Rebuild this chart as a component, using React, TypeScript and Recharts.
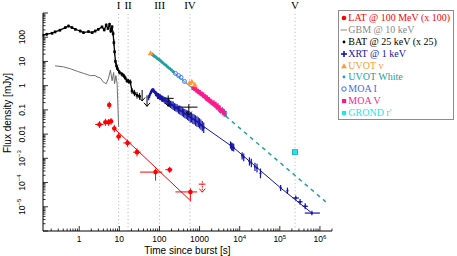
import React from "react";
import {
  ComposedChart,
  ErrorBar,
  Line,
  ReferenceLine,
  Scatter,
  XAxis,
  YAxis,
} from "recharts";

const SANS = "'Liberation Sans', Arial, sans-serif";
const SERIF = "'Liberation Serif', 'Times New Roman', serif";

const X_DOMAIN: [number, number] = [0.125, 2e6];
const Y_DOMAIN: [number, number] = [1e-6, 1e3];

const xTickValues = [1, 10, 100, 1000, 1e4, 1e5, 1e6];
const xTickLabels = [["1"], ["10"], ["100"], ["1000"], ["10", "4"], ["10", "5"], ["10", "6"]];
const yTickValues = [1e-5, 1e-4, 1e-3, 0.01, 0.1, 1, 10, 100];
const yTickLabels = [["10", "−5"], ["10", "−4"], ["10", "−3"], ["0.01"], ["0.1"], ["1"], ["10"], ["100"]];

const phaseTimes = [9.6, 16.5, 101, 575, 2.4e5];
const phaseNames = ["I", "II", "III", "IV", "V"];

// [t, v]
const gbm: [number, number][] = [
  [0.25, 6.6], [0.4, 6.0], [0.6, 5.0], [0.9, 3.9], [1.3, 3.2], [1.9, 2.6], [2.5, 2.6],
  [2.8, 2.3], [3.35, 2.1], [4.0, 1.4], [4.7, 1.2], [5.3, 1.9], [6.0, 4.4], [6.6, 1.6],
  [7.2, 3.5], [7.6, 1.2], [8.2, 2.6], [8.8, 1.2], [9.1, 0.25], [9.6, 0.02],
];

// [t, v, vLow, vHigh]
const bat: [number, number, number, number][] = [
  [0.126, 121, 105, 138], [0.155, 133, 115, 150], [0.21, 146, 128, 165], [0.25, 166, 145, 188],
  [0.33, 195, 172, 220], [0.45, 250, 220, 282], [0.54, 290, 255, 328], [0.66, 250, 220, 282],
  [0.8, 213, 188, 240], [1.06, 180, 158, 204], [1.28, 155, 136, 176], [1.7, 170, 150, 192],
  [2.1, 155, 136, 176], [2.5, 180, 158, 204], [3.0, 213, 188, 240], [3.7, 266, 235, 300],
  [4.2, 200, 176, 226], [4.7, 320, 282, 362], [5.2, 230, 202, 260], [5.7, 340, 300, 385],
  [6.1, 180, 150, 215], [6.6, 270, 230, 315], [7.0, 140, 110, 175], [7.3, 60, 45, 80],
  [7.6, 25, 18, 34], [8.0, 10, 7.5, 13], [8.5, 6.5, 5, 8.5], [9.0, 5.0, 4, 6.3],
  [10, 3.6, 2.9, 4.5], [11.5, 3.0, 2.4, 3.7], [12.8, 2.6, 2.1, 3.2], [14, 2.1, 1.7, 2.6],
  [15.5, 1.6, 1.3, 2.0], [17, 1.5, 1.2, 1.9], [18.8, 1.4, 1.1, 1.8], [20.7, 0.6, 0.45, 0.8],
  [23.7, 0.5, 0.37, 0.67], [27.6, 0.4, 0.29, 0.55], [32, 0.36, 0.26, 0.5],
];

// upper limits [t, v, tLow, tHigh]
const batLimits: [number, number, number, number][] = [
  [37, 0.5, 37, 37], [49, 0.3, 49, 49], [165, 0.3, 87, 226], [540, 0.13, 226, 890],
];

// [t, v, tLow, tHigh, vLow, vHigh]
const lat: [number, number, number, number, number, number][] = [
  [3.2, 0.025, 2.5, 4.0, 0.018, 0.034],
  [4.5, 0.031, 4.0, 5.0, 0.022, 0.043],
  [5.4, 0.031, 5.0, 5.8, 0.022, 0.042],
  [5.6, 0.16, 5.3, 5.9, 0.11, 0.22],
  [6.2, 0.034, 5.8, 6.6, 0.024, 0.046],
  [7.5, 0.017, 6.8, 8.3, 0.012, 0.024],
  [9.6, 0.008, 8.5, 11, 0.0055, 0.011],
  [16, 0.0043, 12.5, 20, 0.003, 0.006],
  [27.6, 0.0018, 22, 34, 0.0012, 0.0026],
  [80, 2.7e-4, 33, 117, 1.2e-4, 3.8e-4],
  [180, 3.4e-4, 140, 210, 2.5e-4, 4.5e-4],
  [590, 4.1e-5, 250, 870, 1.7e-5, 5.8e-5],
];
const latLimits: [number, number, number, number][] = [[1170, 8.6e-5, 950, 1400]];
const latFit: [number, number][] = [[7.5, 0.017], [570, 1.9e-5]];

// [t, v, vLow, vHigh, tLow?, tHigh?]
const xrt: number[][] = [
  [54, 0.33, 0.25, 0.42], [57, 0.4, 0.31, 0.5], [60, 0.5, 0.4, 0.62], [63, 0.58, 0.46, 0.72],
  [66, 0.64, 0.52, 0.78], [69, 0.66, 0.54, 0.8], [72, 0.62, 0.5, 0.76], [76, 0.55, 0.44, 0.68],
  [80, 0.47, 0.37, 0.6], [84, 0.45, 0.35, 0.57], [89, 0.4, 0.31, 0.52], [94, 0.38, 0.29, 0.5],
  [100, 0.34, 0.26, 0.45], [106, 0.33, 0.25, 0.44], [113, 0.3, 0.22, 0.4], [120, 0.28, 0.21, 0.38],
  [128, 0.27, 0.2, 0.36], [136, 0.25, 0.18, 0.34], [145, 0.24, 0.17, 0.33], [155, 0.22, 0.16, 0.3],
  [166, 0.2, 0.14, 0.28], [178, 0.19, 0.13, 0.27], [190, 0.17, 0.12, 0.24], [205, 0.16, 0.11, 0.23],
  [220, 0.15, 0.1, 0.22], [238, 0.13, 0.09, 0.19], [256, 0.12, 0.085, 0.18], [276, 0.115, 0.08, 0.17],
  [298, 0.1, 0.07, 0.15], [320, 0.1, 0.065, 0.15], [345, 0.09, 0.06, 0.14], [372, 0.085, 0.055, 0.13],
  [400, 0.075, 0.05, 0.115], [430, 0.07, 0.045, 0.11], [465, 0.065, 0.042, 0.1], [500, 0.06, 0.038, 0.095],
  [540, 0.055, 0.035, 0.09], [585, 0.05, 0.03, 0.08], [630, 0.046, 0.03, 0.075], [680, 0.042, 0.026, 0.07],
  [735, 0.04, 0.025, 0.065], [795, 0.036, 0.022, 0.06], [860, 0.033, 0.02, 0.055], [930, 0.03, 0.019, 0.05],
  [1000, 0.027, 0.017, 0.045], [1080, 0.024, 0.015, 0.04], [1170, 0.021, 0.013, 0.035], [1270, 0.018, 0.011, 0.03],
  [5900, 0.0036, 0.0025, 0.005], [6300, 0.0031, 0.0021, 0.0045], [6700, 0.0029, 0.002, 0.0042],
  [7100, 0.0027, 0.0019, 0.004], [11500, 0.0013, 0.0009, 0.0018], [12600, 0.0011, 0.00075, 0.0016],
  [17500, 7.5e-4, 5e-4, 1.1e-3], [19500, 6.5e-4, 4.3e-4, 9.5e-4], [24000, 4.5e-4, 3e-4, 6.5e-4],
  [27000, 4e-4, 2.6e-4, 6e-4], [33000, 2.4e-4, 1.5e-4, 3.8e-4], [1.05e5, 6e-5, 4.5e-5, 8e-5],
  [1.55e5, 4.6e-5, 3.4e-5, 6.2e-5], [2.5e5, 2.3e-5, 1.8e-5, 2.9e-5, 2.1e5, 3e5],
  [3.2e5, 1.6e-5, 1.2e-5, 2.1e-5, 2.8e5, 3.7e5], [4.3e5, 1.05e-5, 8e-6, 1.4e-5, 3.7e5, 5e5],
  [6.3e5, 5.5e-6, 4.5e-6, 6.8e-6, 4.2e5, 1e6],
];
const xrtFit: [number, number][] = [[1000, 0.027], [7000, 0.0028], [1.05e5, 6e-5], [6.3e5, 5.5e-6]];

const uvotV: [number, number][] = [[60, 22], [560, 1.3], [640, 1.45], [760, 1.1]];
const uvotWhite: [number, number][] = [
  [66, 20], [70, 18], [75, 16.5], [82, 15], [90, 13], [98, 12], [108, 10.5], [118, 9.2],
  [130, 8], [145, 7], [160, 6], [178, 5.2], [198, 4.5], [220, 3.8], [3300, 0.085], [4400, 0.06],
];
const moaI: [number, number][] = [[250, 3.2], [300, 2.6], [345, 2.2], [420, 1.5], [1550, 0.28], [3700, 0.094], [4300, 0.075]];
// [t, v, vLow, vHigh]
const moaV: [number, number, number, number][] = [
  [700, 0.8, 0.72, 0.88], [780, 0.72, 0.65, 0.8], [870, 0.62, 0.55, 0.7], [960, 0.55, 0.48, 0.63],
  [1060, 0.48, 0.42, 0.55], [1170, 0.44, 0.38, 0.51], [1300, 0.37, 0.31, 0.44], [1450, 0.33, 0.27, 0.4],
  [1620, 0.28, 0.22, 0.35], [1800, 0.24, 0.18, 0.31], [2050, 0.2, 0.15, 0.27], [2300, 0.18, 0.13, 0.25],
  [2600, 0.15, 0.1, 0.21], [2900, 0.13, 0.09, 0.19], [3300, 0.1, 0.07, 0.15], [3700, 0.09, 0.06, 0.13],
  [4100, 0.075, 0.05, 0.11],
];
const grond: [number, number][] = [[2.4e5, 1.8e-3]];
const opticalFit: [number, number][] = [[60, 22], [4500, 0.055]];
const opticalExtrap: [number, number][] = [[4500, 0.055], [1.4e6, 1.6e-5]];

const C = {
  lat: "#ff0000",
  gbm: "#707070",
  bat: "#000000",
  xrt: "#1616a6",
  uvotV: "#ff9933",
  uvotW: "#23a0a0",
  moaI: "#3d6cf0",
  moaV: "#ff1a8c",
  grond: "#22e6ee",
  fit: "#4cb2dc",
};

const legendItems = [
  { name: "LAT @ 100 MeV (x 100)", color: C.lat, marker: "dot" },
  { name: "GBM @ 10 keV", color: "#888888", marker: "line" },
  { name: "BAT @ 25 keV (x 25)", color: C.bat, marker: "small" },
  { name: "XRT @ 1 keV", color: C.xrt, marker: "plus" },
  { name: "UVOT v", color: C.uvotV, marker: "tri" },
  { name: "UVOT White", color: C.uvotW, marker: "small" },
  { name: "MOA I", color: C.moaI, marker: "ring" },
  { name: "MOA V", color: C.moaV, marker: "square" },
  { name: "GROND r'", color: C.grond, marker: "square" },
];

const pts = (a: [number, number][]) => a.map(([t, v]) => ({ t, v }));
const gbmData = pts(gbm);
const batData = bat.map(([t, v, lo, hi]) => ({ t, v, ey: [v - lo, hi - v] }));
const batLimData = batLimits.map(([t, v, tl, th]) => ({ t, v, ex: [t - tl, th - t] }));
const latData = lat.map(([t, v, tl, th, lo, hi]) => ({ t, v, ex: [t - tl, th - t], ey: [v - lo, hi - v] }));
const latLimData = latLimits.map(([t, v, tl, th]) => ({ t, v, ex: [t - tl, th - t] }));
const xrtData = xrt.map(([t, v, lo, hi, tl, th]) => ({
  t,
  v,
  ey: [v - lo, hi - v],
  ex: tl ? [t - tl, th - t] : [0, 0],
}));
const moaVData = moaV.map(([t, v, lo, hi]) => ({ t, v, ey: [v - lo, hi - v] }));

function logTicks(lo: number, hi: number) {
  const out: number[] = [];
  for (let e = Math.floor(Math.log10(lo)); e <= Math.ceil(Math.log10(hi)); e++) {
    for (let m = 1; m <= 9; m++) {
      const v = m * Math.pow(10, e);
      if (v >= lo * 0.999 && v <= hi * 1.001) out.push(v);
    }
  }
  return out;
}
const isMajor = (v: number) => Math.abs(Math.log10(v) - Math.round(Math.log10(v))) < 1e-6;
const findLabel = (vals: number[], labels: string[][], v: number) => {
  const i = vals.findIndex((d) => Math.abs(Math.log10(d) - Math.log10(v)) < 1e-6);
  return i >= 0 ? labels[i] : null;
};

const tickText = (lab: string[]) => (
  <>
    {lab[0]}
    {lab[1] && (
      <tspan dy={-3.5} fontSize={6}>
        {lab[1]}
      </tspan>
    )}
  </>
);

const renderXBottom = (p: any) => {
  const { x, y, payload } = p;
  const major = isMajor(payload.value);
  const lab = findLabel(xTickValues, xTickLabels, payload.value);
  return (
    <g>
      <line x1={x} x2={x} y1={y} y2={y - (major ? 5 : 2.5)} stroke="#000" strokeWidth={0.8} />
      {lab && (
        <text x={x} y={y + 11} textAnchor="middle" fontSize={8.5} fontFamily={SANS} fill="#000">
          {tickText(lab)}
        </text>
      )}
    </g>
  );
};
const renderXTop = (p: any) => {
  const { x, y, payload } = p;
  const major = isMajor(payload.value);
  return <line x1={x} x2={x} y1={y} y2={y + (major ? 5 : 2.5)} stroke="#000" strokeWidth={0.8} />;
};
const renderYLeft = (p: any) => {
  const { x, y, payload } = p;
  const major = isMajor(payload.value);
  const lab = findLabel(yTickValues, yTickLabels, payload.value);
  const tx = x - 18;
  return (
    <g>
      <line x1={x} x2={x + (major ? 5 : 2.5)} y1={y} y2={y} stroke="#000" strokeWidth={0.8} />
      {lab && (
        <text
          x={tx}
          y={y}
          transform={`rotate(-90 ${tx} ${y})`}
          textAnchor="middle"
          fontSize={8.5}
          fontFamily={SANS}
          fill="#000"
        >
          {tickText(lab)}
        </text>
      )}
    </g>
  );
};
const renderYRight = (p: any) => {
  const { x, y, payload } = p;
  const major = isMajor(payload.value);
  return <line x1={x} x2={x - (major ? 5 : 2.5)} y1={y} y2={y} stroke="#000" strokeWidth={0.8} />;
};

const arrowShape = (color: string, dashed = false) => (p: any) => (
  <g stroke={color} fill="none" strokeWidth={1}>
    <line x1={p.cx} y1={p.cy - 3} x2={p.cx} y2={p.cy + 8} strokeDasharray={dashed ? "1.5 1" : undefined} />
    <path d={`M${p.cx - 3},${p.cy + 4.5} L${p.cx},${p.cy + 8} L${p.cx + 3},${p.cy + 4.5}`} />
  </g>
);

function LegendMarker({ kind, color }: { kind: string; color: string }) {
  return (
    <svg width={8} height={8} style={{ position: "absolute", left: 0, top: 2 }}>
      {kind === "dot" && <circle cx={4} cy={4} r={2.3} fill={color} />}
      {kind === "line" && <line x1={0.5} x2={7} y1={4} y2={4} stroke={color} strokeWidth={1} />}
      {kind === "small" && <circle cx={4} cy={4} r={1.4} fill={color} />}
      {kind === "plus" && (
        <g stroke={color} strokeWidth={1.6}>
          <line x1={1} x2={7} y1={4} y2={4} />
          <line x1={4} x2={4} y1={1} y2={7} />
        </g>
      )}
      {kind === "tri" && <path d="M4,1.3 L6.8,6.3 L1.2,6.3 Z" fill={color} />}
      {kind === "ring" && <circle cx={4} cy={4} r={2.2} fill="none" stroke={color} strokeWidth={1} />}
      {kind === "square" && <rect x={2} y={2} width={4.2} height={4.2} fill={color} />}
    </svg>
  );
}

const ids = { xAxisId: "b", yAxisId: "l" };

export default function App() {
  const xt = logTicks(X_DOMAIN[0], X_DOMAIN[1]);
  const yt = logTicks(Y_DOMAIN[0], Y_DOMAIN[1]);
  return (
    <div style={{ position: "fixed", left: 0, top: 0, width: 457, height: 256, background: "#fff" }}>
      <ComposedChart width={457} height={256} margin={{ top: 13, right: 125, bottom: 0, left: 0 }}>
        <XAxis
          xAxisId="b"
          dataKey="t"
          type="number"
          scale="log"
          domain={X_DOMAIN}
          allowDataOverflow
          ticks={xt}
          interval={0}
          tickLine={false}
          tickSize={0}
          tickMargin={0}
          height={25}
          axisLine={{ stroke: "#000", strokeWidth: 1 }}
          tick={renderXBottom}
        />
        <XAxis
          xAxisId="t"
          orientation="top"
          dataKey="t"
          type="number"
          scale="log"
          domain={X_DOMAIN}
          allowDataOverflow
          ticks={xt}
          interval={0}
          tickLine={false}
          tickSize={0}
          tickMargin={0}
          height={0}
          axisLine={{ stroke: "#000", strokeWidth: 1 }}
          tick={renderXTop}
        />
        <YAxis
          yAxisId="l"
          dataKey="v"
          type="number"
          scale="log"
          domain={Y_DOMAIN}
          allowDataOverflow
          ticks={yt}
          interval={0}
          tickLine={false}
          tickSize={0}
          tickMargin={0}
          width={43}
          axisLine={{ stroke: "#000", strokeWidth: 1 }}
          tick={renderYLeft}
        />
        <YAxis
          yAxisId="r"
          orientation="right"
          dataKey="v"
          type="number"
          scale="log"
          domain={Y_DOMAIN}
          allowDataOverflow
          ticks={yt}
          interval={0}
          tickLine={false}
          tickSize={0}
          tickMargin={0}
          width={0}
          axisLine={{ stroke: "#000", strokeWidth: 1 }}
          tick={renderYRight}
        />

        {phaseTimes.map((t, i) => (
          <ReferenceLine
            key={phaseNames[i]}
            {...ids}
            x={t}
            stroke="#bdbdbd"
            strokeDasharray="1.2 2.4"
            strokeWidth={1}
            label={{ value: phaseNames[i], position: "top", fill: "#000", fontSize: 11, fontFamily: SERIF, offset: 4 }}
          />
        ))}

        <Line {...ids} data={gbmData} dataKey="v" stroke={C.gbm} strokeWidth={1} dot={false} isAnimationActive={false} />

        <Line
          {...ids}
          data={batData}
          dataKey="v"
          stroke={C.bat}
          strokeWidth={1.3}
          dot={(p: any) => <rect key={`bd${p.index}`} x={p.cx - 1.3} y={p.cy - 1.3} width={2.6} height={2.6} fill="#000" />}
          isAnimationActive={false}
        >
          <ErrorBar dataKey="ey" direction="y" width={0} stroke="#000" strokeWidth={1} />
        </Line>
        <Scatter {...ids} data={batLimData} dataKey="v" shape={arrowShape("#000")} isAnimationActive={false}>
          <ErrorBar dataKey="ex" direction="x" width={0} stroke="#000" strokeWidth={1} />
        </Scatter>

        <Line {...ids} data={pts(latFit)} dataKey="v" stroke={C.lat} strokeWidth={1} dot={false} isAnimationActive={false} />
        <Scatter
          {...ids}
          data={latData}
          dataKey="v"
          shape={(p: any) => <circle cx={p.cx} cy={p.cy} r={2.3} fill={C.lat} />}
          isAnimationActive={false}
        >
          <ErrorBar dataKey="ex" direction="x" width={0} stroke={C.lat} strokeWidth={1} />
          <ErrorBar dataKey="ey" direction="y" width={0} stroke={C.lat} strokeWidth={1} />
        </Scatter>
        <Scatter {...ids} data={latLimData} dataKey="v" shape={arrowShape(C.lat, true)} isAnimationActive={false}>
          <ErrorBar dataKey="ex" direction="x" width={0} stroke={C.lat} strokeWidth={1} />
        </Scatter>

        <Line {...ids} data={pts(opticalFit)} dataKey="v" stroke={C.fit} strokeWidth={1.2} dot={false} isAnimationActive={false} />
        <Line
          {...ids}
          data={pts(opticalExtrap)}
          dataKey="v"
          stroke={C.uvotW}
          strokeWidth={1.5}
          strokeDasharray="4 4"
          dot={false}
          isAnimationActive={false}
        />

        <Line {...ids} data={pts(xrtFit)} dataKey="v" stroke={C.xrt} strokeWidth={1} dot={false} isAnimationActive={false} />
        <Scatter
          {...ids}
          data={xrtData}
          dataKey="v"
          shape={(p: any) => <circle cx={p.cx} cy={p.cy} r={1.1} fill={C.xrt} />}
          isAnimationActive={false}
        >
          <ErrorBar dataKey="ey" direction="y" width={0} stroke={C.xrt} strokeWidth={1.2} />
          <ErrorBar dataKey="ex" direction="x" width={0} stroke={C.xrt} strokeWidth={1.2} />
        </Scatter>

        <Scatter
          {...ids}
          data={pts(uvotWhite)}
          dataKey="v"
          shape={(p: any) => <circle cx={p.cx} cy={p.cy} r={1.6} fill={C.uvotW} />}
          isAnimationActive={false}
        />
        <Scatter
          {...ids}
          data={pts(moaI)}
          dataKey="v"
          shape={(p: any) => <circle cx={p.cx} cy={p.cy} r={2} fill="none" stroke={C.moaI} strokeWidth={0.9} />}
          isAnimationActive={false}
        />
        <Scatter
          {...ids}
          data={moaVData}
          dataKey="v"
          shape={(p: any) => <rect x={p.cx - 2} y={p.cy - 2} width={4} height={4} fill={C.moaV} />}
          isAnimationActive={false}
        >
          <ErrorBar dataKey="ey" direction="y" width={0} stroke={C.moaV} strokeWidth={1} />
        </Scatter>
        <Scatter
          {...ids}
          data={pts(uvotV)}
          dataKey="v"
          shape={(p: any) => (
            <path d={`M${p.cx},${p.cy - 3} L${p.cx + 2.8},${p.cy + 2} L${p.cx - 2.8},${p.cy + 2} Z`} fill={C.uvotV} />
          )}
          isAnimationActive={false}
        />
        <Scatter
          {...ids}
          data={pts(grond)}
          dataKey="v"
          shape={(p: any) => (
            <rect x={p.cx - 2.5} y={p.cy - 2.5} width={5} height={5} fill={C.grond} stroke="#14a8b0" strokeWidth={0.8} />
          )}
          isAnimationActive={false}
        />
      </ComposedChart>

      <svg width={457} height={256} style={{ position: "absolute", left: 0, top: 0, pointerEvents: "none" }}>
        <text x={187.5} y={253.5} textAnchor="middle" fontSize={10} fontFamily={SANS} fill="#000">
          Time since burst [s]
        </text>
        <text x={10.5} y={113} textAnchor="middle" fontSize={10} fontFamily={SANS} fill="#000" transform="rotate(-90 10.5 113)">
          Flux density [mJy]
        </text>
      </svg>

      <div
        style={{
          position: "absolute",
          left: 338,
          top: 10,
          width: 116,
          height: 110,
          border: "1px solid #8c8c8c",
          background: "#fff",
          boxSizing: "border-box",
        }}
      >
        {legendItems.map((it, i) => (
          <div
            key={it.name}
            style={{
              position: "absolute",
              left: 1,
              top: 1.4 + i * 11.8,
              height: 11.8,
              lineHeight: "11.8px",
              whiteSpace: "nowrap",
              fontFamily: SERIF,
              fontSize: 10,
              color: it.color,
            }}
          >
            <LegendMarker kind={it.marker} color={it.color} />
            <span style={{ position: "absolute", left: 8.3, top: 0 }}>{it.name}</span>
          </div>
        ))}
      </div>
    </div>
  );
}
